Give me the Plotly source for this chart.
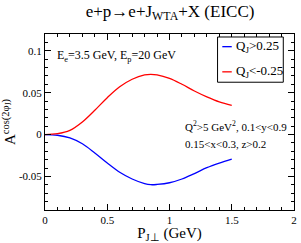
import plotly.graph_objects as go

p_jt = [0.0, 0.1, 0.2, 0.3, 0.4, 0.5, 0.6, 0.7, 0.8, 0.85, 0.9, 1.0, 1.1, 1.2, 1.3, 1.4, 1.5]
a_pos = [0.0, -0.0008, -0.004, -0.011, -0.022, -0.034, -0.045, -0.053, -0.0585, -0.0598,
         -0.0595, -0.0575, -0.053, -0.0465, -0.0395, -0.034, -0.0293]
a_neg = [0.0, 0.001, 0.005, 0.015, 0.029, 0.044, 0.057, 0.066, 0.0712, 0.0718,
         0.0712, 0.067, 0.060, 0.052, 0.045, 0.039, 0.0347]
name_pos = "Q<sub>J</sub>>0.25"
name_neg = "Q<sub>J</sub><-0.25"
color_pos = "#0000ff"
color_neg = "#ff0000"
x_ticks = [0, 0.5, 1, 1.5, 2]
x_labels = ["0", "0.5", "1", "1.5", "2"]
y_ticks = [-0.05, 0, 0.05, 0.1]
y_labels = ["-0.05", "0", "0.05", "0.1"]

FONT = "Liberation Serif"

fig = go.Figure()
fig.add_trace(go.Scatter(x=p_jt, y=a_pos, mode="lines", name=name_pos,
                         line=dict(color=color_pos, width=1.3, shape="spline")))
fig.add_trace(go.Scatter(x=p_jt, y=a_neg, mode="lines", name=name_neg,
                         line=dict(color=color_neg, width=1.3, shape="spline")))

axis_common = dict(showline=True, linecolor="black", linewidth=1, mirror="ticks",
                   ticks="inside", ticklen=6, tickcolor="black", tickwidth=1,
                   showgrid=False, zeroline=False,
                   tickfont=dict(family=FONT, size=11, color="black"))

fig.update_xaxes(range=[0, 2], tickvals=x_ticks, ticktext=x_labels,
                 minor=dict(dtick=0.1, ticks="inside", ticklen=3, tickcolor="black", showgrid=False),
                 title=dict(text="P<sub>J⊥</sub> (GeV)", font=dict(family=FONT, size=15, color="black"),
                            standoff=2),
                 **axis_common)
fig.update_yaxes(range=[-0.09, 0.12], tickvals=y_ticks, ticktext=y_labels,
                 minor=dict(dtick=0.01, ticks="inside", ticklen=3, tickcolor="black", showgrid=False),
                 title=dict(text="A<sup>cos(2φ<sub>J</sub>)</sup>", font=dict(family=FONT, size=15, color="black"),
                            standoff=4),
                 **axis_common)

# legend box drawn in paper coordinates (compact, like the reference)
lg_x0, lg_x1, lg_y0, lg_y1 = 0.693, 0.957, 0.726, 0.983
shapes = [
    dict(type="rect", xref="paper", yref="paper", x0=lg_x0, x1=lg_x1, y0=lg_y0, y1=lg_y1,
         line=dict(color="black", width=1), fillcolor="white", layer="above"),
]
annotations = []
for name, color, yy in [(name_pos, color_pos, 0.928), (name_neg, color_neg, 0.785)]:
    shapes.append(dict(type="line", xref="paper", yref="paper", x0=0.712, x1=0.750, y0=yy, y1=yy,
                       line=dict(color=color, width=1.3), layer="above"))
    annotations.append(dict(text=name, xref="paper", yref="paper", x=0.758, y=yy,
                            xanchor="left", yanchor="middle", showarrow=False,
                            font=dict(family=FONT, size=13, color="black")))

annotations += [
    dict(text="E<sub>e</sub>=3.5 GeV, E<sub>p</sub>=20 GeV", xref="paper", yref="paper",
         x=0.04, y=0.875, xanchor="left", yanchor="middle", showarrow=False,
         font=dict(family=FONT, size=12, color="black")),
    dict(text="Q<sup>2</sup>>5 GeV<sup>2</sup>, 0.1<y<0.9", xref="paper", yref="paper",
         x=0.555, y=0.48, xanchor="left", yanchor="middle", showarrow=False,
         font=dict(family=FONT, size=11, color="black")),
    dict(text="0.15<x<0.3, z>0.2", xref="paper", yref="paper",
         x=0.555, y=0.375, xanchor="left", yanchor="middle", showarrow=False,
         font=dict(family=FONT, size=11, color="black")),
]

fig.update_layout(
    width=301, height=243,
    margin=dict(l=43, r=4, t=34, b=30),
    paper_bgcolor="white", plot_bgcolor="white",
    title=dict(text="e+p→e+J<sub>WTA</sub>+X (EICC)", x=0.565, xanchor="center", y=0.955, yanchor="middle",
               font=dict(family=FONT, size=17, color="black")),
    showlegend=False,
    shapes=shapes,
    annotations=annotations,
)

fig.write_html("out.html", config={"displayModeBar": False},
               post_script="document.body.style.margin='0px';")
